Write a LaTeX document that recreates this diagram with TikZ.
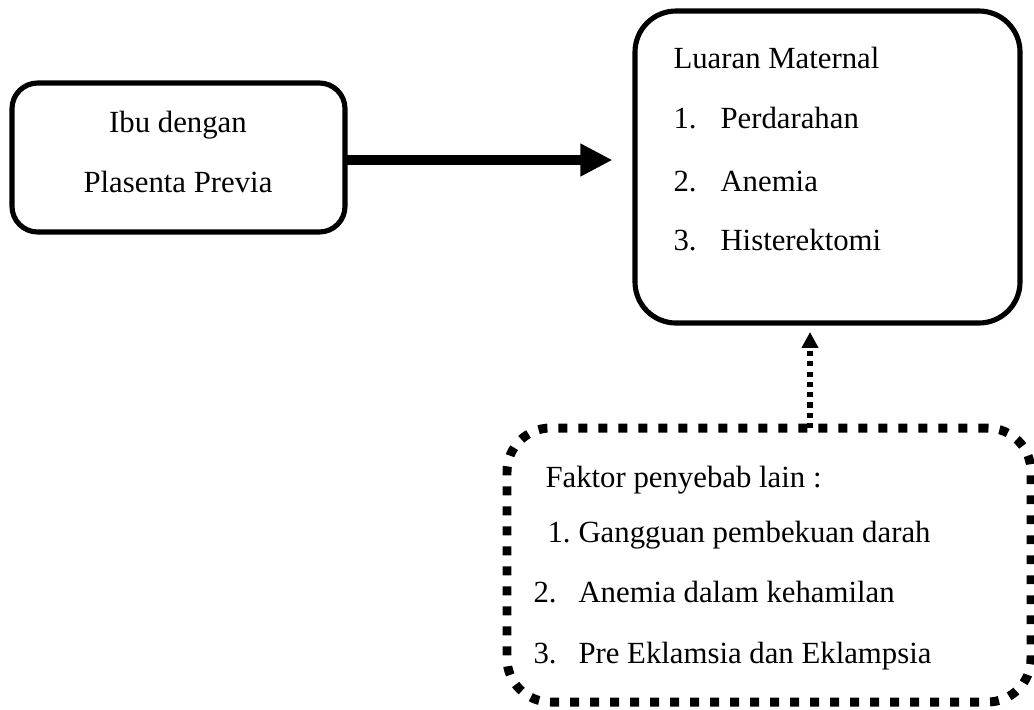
\documentclass[tikz,border=0pt]{standalone}
\usepackage{fontspec}
\setmainfont{Liberation Serif}
\usetikzlibrary{arrows.meta,positioning,fit}
\tikzstyle{kotak} = [
    draw,
    line width=2pt,
    rounded corners=10pt,
    inner sep=0pt
]
\tikzstyle{kotakbesar} = [
    kotak,
    rounded corners=16pt
]
\tikzstyle{kotaktitik} = [
    draw,
    line width=3.5pt,
    dash pattern=on 3.5pt off 4.3pt,
    rounded corners=17pt,
    inner sep=0pt
]
\tikzstyle{teks} = [
    inner sep=0pt,
    anchor=base west
]
\tikzstyle{arrow} = [
    line width=3.9pt,
    -{Triangle[length=12.5pt,width=12pt]},
    shorten >=7.8pt
]
\tikzstyle{dotarrow} = [
    line width=2pt,
    dash pattern=on 2pt off 2pt,
    -{Triangle[length=6.2pt,width=6.2pt]},
    shorten >=2.5pt
]

\begin{document}
\begin{tikzpicture}[x=0.39pt,y=-0.39pt,font=\fontsize{12pt}{14pt}\selectfont]
\useasboundingbox (0,0) rectangle (1034,709);

% Kotak ibu
\node[kotak, fit={(12,83) (345,232)}] (ibu) {};
\node[teks, anchor=base] (ibu1) at (178,132) {Ibu dengan};
\node[teks, anchor=base] (ibu2) at (178,192) {Plasenta Previa};

% Kotak luaran maternal
\node[kotakbesar, fit={(635,11) (1020,323)}] (luaran) {};
\node[teks] (judul) at (673,68) {Luaran Maternal};
\node[teks] (n1) at (673,128) {1.};
\node[teks] (m1) at (720,128) {Perdarahan};
\node[teks] (n2) at (673,191) {2.};
\node[teks] (m2) at (720,191) {Anemia};
\node[teks] (n3) at (673,250) {3.};
\node[teks] (m3) at (720,250) {Histerektomi};

% Kotak faktor lain (bertitik)
\node[kotaktitik, fit={(507,428) (1031,702)}] (faktor) {};
\node[teks] (fjudul) at (545,487) {Faktor penyebab lain :};
\node[teks] (f1n) at (547,542) {1.};
\node[teks] (f1) at (578,542) {Gangguan pembekuan darah};
\node[teks] (f2n) at (533,602) {2.};
\node[teks] (f2) at (578,602) {Anemia dalam kehamilan};
\node[teks] (f3n) at (533,663) {3.};
\node[teks] (f3) at (578,663) {Pre Eklamsia dan Eklampsia};

% Panah
\coordinate (pangkal) at (345,160);
\draw[arrow] (pangkal) -- (pangkal -| luaran.west);
\coordinate (ujung) at (810,428);
\draw[dotarrow] (ujung) -- (ujung |- luaran.south);
\end{tikzpicture}
\end{document}
